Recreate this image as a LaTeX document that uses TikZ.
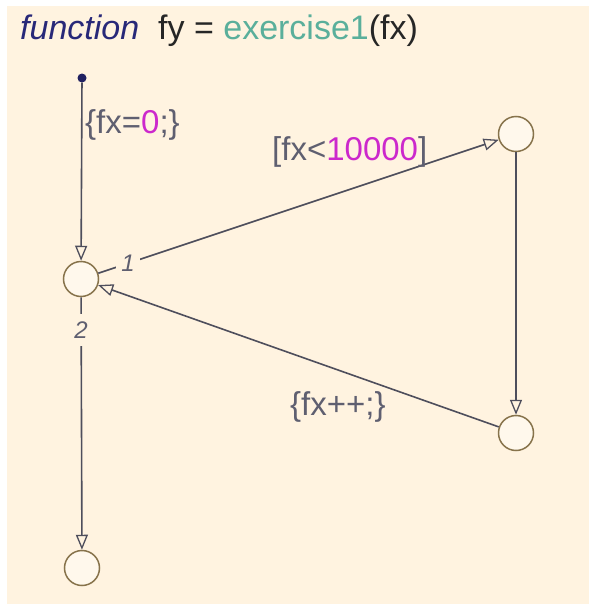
\documentclass[tikz,border=0pt]{standalone}
\usepackage{fontspec}
\setmainfont{Liberation Sans}
\usetikzlibrary{arrows.meta}
\definecolor{bgc}{RGB}{255,243,224}
\definecolor{jfill}{RGB}{255,248,236}
\definecolor{jdraw}{RGB}{135,115,75}
\definecolor{tline}{RGB}{78,78,92}
\definecolor{lbl}{RGB}{95,95,112}
\definecolor{numc}{RGB}{204,40,204}
\definecolor{kw}{RGB}{40,40,120}
\definecolor{fnc}{RGB}{90,175,155}
\tikzset{
  junc/.style={circle,draw=jdraw,fill=jfill,line width=1.5pt,minimum size=35pt,inner sep=0pt},
  trans/.style={draw=tline,line width=1.6pt,-{Triangle[open,length=15pt,width=12pt,line width=1.3pt]}},
  lab/.style={text=lbl,font=\fontsize{33}{37}\selectfont,inner sep=0pt},
  ordn/.style={text=lbl,font=\fontsize{24}{28}\selectfont\itshape,fill=bgc,inner sep=5pt}
}
\begin{document}
\begin{tikzpicture}[x=1pt,y=-1pt]
\useasboundingbox (0,0) rectangle (589,608);
\fill[bgc] (7,6) rectangle (589,604);
\node[anchor=base west,inner sep=0pt,font=\fontsize{34}{38}\selectfont] (title) at (20,39)
  {\textcolor{kw}{\itshape function}\ \ \textcolor{black!85}{fy =} \textcolor{fnc}{exercise1}\textcolor{black!85}{(fx)}};
\node[circle,fill=kw!80!black,inner sep=0pt,minimum size=9pt] (start) at (82,78) {};
\node[junc] (j) at (81,279) {};
\node[junc] (tr) at (516,134) {};
\node[junc] (br) at (516,433) {};
\node[junc] (bt) at (82,568) {};
\draw[trans] (start) -- (j);
\draw[trans] (j) -- (tr);
\draw[trans] (tr) -- (br);
\draw[trans] (br) -- (j);
\draw[trans] (j) -- (bt);
\node[ordn] (o1) at (128,263) {1};
\node[ordn,inner sep=8pt] (o2) at (81,330) {2};
\node[lab,anchor=base west] (l1) at (85,133) {\{fx=\textcolor{numc}{0};\}};
\node[lab,anchor=base west] (l2) at (272,160) {[fx<\textcolor{numc}{10000}]};
\node[lab,anchor=base west] (l3) at (290,415) {\{fx++;\}};
\end{tikzpicture}
\end{document}
